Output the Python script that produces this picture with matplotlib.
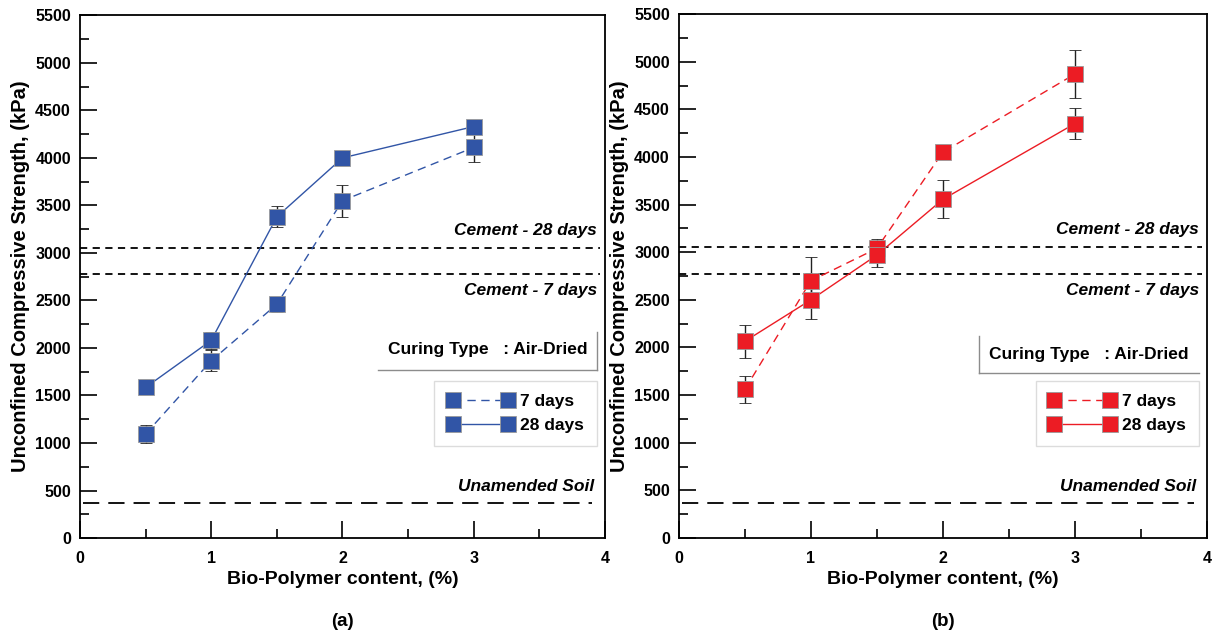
import numpy as np
import matplotlib
matplotlib.use("Agg")
import matplotlib.pyplot as plt
from matplotlib.lines import Line2D

plt.rcParams['font.family'] = ['Liberation Sans', 'DejaVu Sans']
plt.rcParams['font.weight'] = 'bold'

# --- data ---
content = [0.5, 1.0, 1.5, 2.0, 3.0]

a_7d = [1095, 1865, 2460, 3550, 4110]
a_7d_err = [90, 110, 80, 170, 150]
a_28d = [1585, 2080, 3380, 4000, 4330]
a_28d_err = [50, 90, 110, 50, 50]

b_7d = [1560, 2700, 3040, 4050, 4870]
b_7d_err = [145, 250, 100, 25, 250]
b_28d = [2065, 2500, 2970, 3555, 4350]
b_28d_err = [170, 200, 120, 200, 160]

cement_28 = 3055
cement_7 = 2775
soil = 370

BLUE = '#3155a6'
RED = '#ec1c24'
DASH7 = (0, (6, 4))


def draw_panel(ax, s7, e7, s28, e28, color, label, note_box, side):
    ax.errorbar(content, s7, yerr=e7, color=color, ls=DASH7, lw=1.0,
                marker='s', ms=11, mec='#9a9a9a', mew=0.6, ecolor='#222222',
                elinewidth=1.0, capsize=4, capthick=1.0, zorder=3)
    ax.errorbar(content, s28, yerr=e28, color=color, ls='-', lw=1.0,
                marker='s', ms=11, mec='#9a9a9a', mew=0.6, ecolor='#222222',
                elinewidth=1.0, capsize=4, capthick=1.0, zorder=3)

    ax.axhline(cement_28, xmin=0, xmax=0.99, color='black', ls=(0, (4, 3)), lw=1.3)
    ax.axhline(cement_7, xmin=0, xmax=0.99, color='black', ls=(0, (4, 3)), lw=1.3)
    ax.axhline(soil, xmin=0.005, xmax=0.975, color='black', ls=(0, (9, 5)), lw=1.3)

    ax.text(3.94, 3240, 'Cement - 28 days', ha='right', va='center',
            style='italic', fontsize=12.5)
    ax.text(3.94, 2600, 'Cement - 7 days', ha='right', va='center',
            style='italic', fontsize=12.5)
    ax.text(3.92, 540, 'Unamended Soil', ha='right', va='center',
            style='italic', fontsize=12.5)

    ax.set_xlim(0, 4)
    ax.set_ylim(0, 5500)
    ax.set_xticks([0, 1, 2, 3, 4])
    ax.set_xticks([0.5, 1.5, 2.5, 3.5], minor=True)
    ax.set_yticks(np.arange(0, 5501, 500))
    ax.set_yticks(np.arange(250, 5500, 500), minor=True)
    ax.tick_params(axis='both', which='major', direction='in', length=12.5,
                   width=1.2, labelsize=11.5, top=False, right=False)
    ax.tick_params(axis='x', which='major', pad=9)
    ax.tick_params(axis='y', which='major', pad=6.5)
    ax.tick_params(axis='both', which='minor', direction='in', length=6.5,
                   width=1.2, top=False, right=False)
    for lab in ax.get_xticklabels() + ax.get_yticklabels():
        lab.set_fontweight('bold')
    for sp in ax.spines.values():
        sp.set_linewidth(1.3)

    ax.set_xlabel('Bio-Polymer content, (%)', fontsize=14, fontweight='bold', labelpad=4)
    ax.set_ylabel('Unconfined Compressive Strength, (kPa)', fontsize=14.5,
                  fontweight='bold', labelpad=4)

    # curing type note with partial frame
    x0, x1, ytop, ybot = note_box
    ax.text((x0 + x1) / 2, ytop - 0.035, 'Curing Type   : Air-Dried', ha='center',
            va='center', fontsize=12.5, transform=ax.transAxes)
    vx = x1 if side == 'right' else x0
    ax.add_line(Line2D([x0, x1], [ybot, ybot], transform=ax.transAxes,
                       color='#8c8c8c', lw=1.0))
    ax.add_line(Line2D([vx, vx], [ybot, ytop], transform=ax.transAxes,
                       color='#8c8c8c', lw=1.0))

    handles = [
        Line2D([], [], color=color, ls=DASH7, lw=1.0, marker='s', ms=11.5,
               mec='#9a9a9a', mew=0.6),
        Line2D([], [], color=color, ls='-', lw=1.0, marker='s', ms=11.5,
               mec='#9a9a9a', mew=0.6),
    ]
    leg = ax.legend(handles, ['7 days', '28 days'], loc='upper right',
                    bbox_to_anchor=(0.985, 0.30), numpoints=2, handlelength=3.8,
                    fontsize=12.5, frameon=True, fancybox=False, edgecolor='#d4d4d4',
                    borderpad=0.75, labelspacing=0.5, handletextpad=0.4,
                    borderaxespad=0)
    leg.get_frame().set_linewidth(1.0)

    ax.text(0.5, -0.16, label, transform=ax.transAxes, ha='center', va='center',
            fontsize=13.5)


fig = plt.figure(figsize=(12.21, 6.39), dpi=100)
ax_a = fig.add_axes([0.0655, 0.158, 0.43, 0.818])
ax_b = fig.add_axes([0.556, 0.158, 0.4324, 0.82])

draw_panel(ax_a, a_7d, a_7d_err, a_28d, a_28d_err, BLUE, '(a)',
           (0.568, 0.985, 0.395, 0.321), 'right')
draw_panel(ax_b, b_7d, b_7d_err, b_28d, b_28d_err, RED, '(b)',
           (0.568, 0.985, 0.385, 0.315), 'left')

fig.savefig('out.png', dpi=100)
